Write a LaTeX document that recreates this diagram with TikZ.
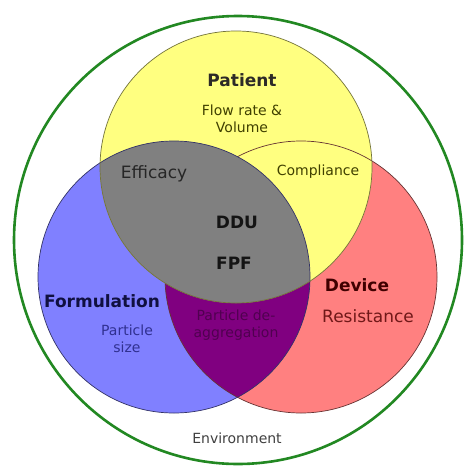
\documentclass[tikz,border=0pt]{standalone}
\usepackage{fontspec}
\setmainfont{DejaVu Sans}
\definecolor{patyellow}{RGB}{255,255,128}
\definecolor{formblue}{RGB}{128,128,255}
\definecolor{devred}{RGB}{255,128,128}
\definecolor{mixgray}{RGB}{128,128,128}
\definecolor{mixpurple}{RGB}{128,0,128}
\definecolor{envgreen}{RGB}{34,136,34}
\definecolor{olivetxt}{RGB}{64,64,0}
\definecolor{navytxt}{RGB}{16,16,64}
\definecolor{bluetxt}{RGB}{48,48,144}
\definecolor{redtxt}{RGB}{112,24,24}
\definecolor{darkred}{RGB}{64,0,0}
\definecolor{purpletxt}{RGB}{80,0,80}
\begin{document}
\begin{tikzpicture}[x=1pt,y=-1pt,
  lbl/.style={inner sep=0pt, align=center, font=\fontsize{14}{17}\selectfont},
  biglbl/.style={inner sep=0pt, align=center, font=\fontsize{17}{20}\selectfont},
  head/.style={inner sep=0pt, font=\fontsize{17}{20}\selectfont\bfseries},
  rim/.style={line width=0.7pt}]
\useasboundingbox (0,0) rectangle (470,468);
\fill[white] (0,0) rectangle (470,468);

% circle centres
\coordinate (P) at (236,167);
\coordinate (F) at (174,277);
\coordinate (D) at (301,277);
\coordinate (E) at (238,240);

% fills, back to front
\fill[devred] (D) circle[radius=136pt];
\fill[formblue] (F) circle[radius=136pt];
\begin{scope}
  \clip (F) circle[radius=136pt];
  \fill[mixpurple] (D) circle[radius=136pt];
\end{scope}
\fill[patyellow] (P) circle[radius=136pt];
% the device rim stays visible across the patient circle only
\draw[rim, devred!40!black] (D) circle[radius=136pt];
\begin{scope}
  \clip (F) circle[radius=136pt];
  \fill[mixgray] (P) circle[radius=136pt];
\end{scope}

% remaining outlines
\draw[rim, formblue!40!black] (F) circle[radius=136pt];
\draw[rim, patyellow!45!black] (P) circle[radius=136pt];
\draw[envgreen, line width=2.6pt] (E) circle[radius=224pt];

% labels
\node[head, text=black!90!olive] (patient) at (242,80) {Patient};
\node[lbl, text=olivetxt] (flow) at (242,118.5) {Flow rate \&\\Volume};
\node[biglbl, text=black!85] (efficacy) at (154,174) {Efficacy};
\node[lbl, text=olivetxt] (compliance) at (318,172) {Compliance};
\node[head, text=black!92] (ddu) at (237,222) {DDU};
\node[head, text=black!92] (fpf) at (234,263) {FPF};
\node[head, text=navytxt] (formulation) at (102,301) {Formulation};
\node[lbl, text=bluetxt] (psize) at (127,338.5) {Particle\\size};
\node[lbl, text=purpletxt] (deagg) at (236,325) {Particle de-\\aggregation};
\node[head, text=darkred] (device) at (357,285) {Device};
\node[biglbl, text=redtxt] (resist) at (368,316) {Resistance};
\node[lbl, text=black!75] (env) at (237,438) {Environment};
\end{tikzpicture}
\end{document}
